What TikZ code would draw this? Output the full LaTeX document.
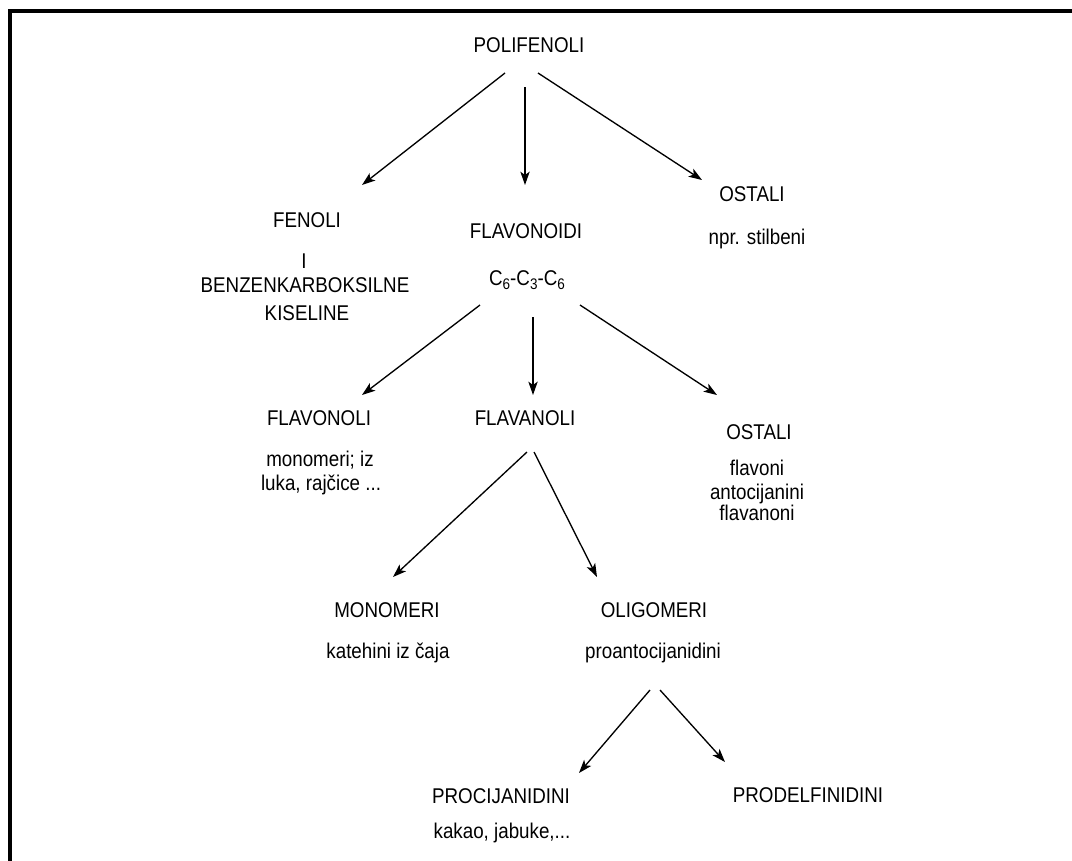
\documentclass[tikz,border=0pt]{standalone}
\usepackage{fontspec}
\setmainfont{Liberation Sans}[FakeStretch=0.88]
\usetikzlibrary{arrows.meta}
\newcommand{\lowsub}[1]{\raisebox{-3.6pt}{\fontsize{11.5pt}{12pt}\selectfont #1}}
\begin{document}
\begin{tikzpicture}[x=0.75pt,y=-0.75pt,
  lbl/.style={anchor=base,inner sep=0pt,font=\fontsize{16pt}{18pt}\selectfont},
  arr/.style={line width=1pt,-{Stealth[length=10pt,width=7pt,inset=2.5pt]}},
  frame/.style={line width=2.3pt,line cap=rect}]
\useasboundingbox (0,0) rectangle (1072,861);
\draw[frame] (10,861) -- (10,11) -- (1072,11);

\node[lbl] (poli) at (529,52) {POLIFENOLI};
\node[lbl] (fenoli) at (307,227) {FENOLI};
\node[lbl] (iconj) at (304,268) {I};
\node[lbl] (benz) at (305,292) {BENZENKARBOKSILNE};
\node[lbl] (kis) at (307,320) {KISELINE};
\node[lbl] (flavonoidi) at (526,238) {FLAVONOIDI};
\node[lbl] (c6) at (527,285) {C\lowsub{6}-C\lowsub{3}-C\lowsub{6}};
\node[lbl] (ostalia) at (752,201) {OSTALI};
\node[lbl] (npr) at (757,244) {npr. stilbeni};
\node[lbl] (flavonoli) at (319,425) {FLAVONOLI};
\node[lbl] (monoa) at (320,466) {monomeri; iz};
\node[lbl] (luka) at (321,490) {luka, rajčice ...};
\node[lbl] (flavanoli) at (525,425) {FLAVANOLI};
\node[lbl] (ostalib) at (759,439) {OSTALI};
\node[lbl] (flavoni) at (757,475) {flavoni};
\node[lbl] (antoc) at (757,499) {antocijanini};
\node[lbl] (flavanoni) at (757,520) {flavanoni};
\node[lbl] (monomeri) at (387,617) {MONOMERI};
\node[lbl] (katehini) at (388,658) {katehini iz čaja};
\node[lbl] (oligomeri) at (654,617) {OLIGOMERI};
\node[lbl] (proanto) at (653,658) {proantocijanidini};
\node[lbl] (procij) at (501,803) {PROCIJANIDINI};
\node[lbl] (kakao) at (502,838) {kakao, jabuke,...};
\node[lbl] (prodelf) at (808,802) {PRODELFINIDINI};

\draw[arr] ([shift={(-24,21)}]poli.base) -- ([shift={(55,-42)}]fenoli.base);
\draw[arr] ([shift={(-4,35)}]poli.base) -- ([shift={(-1,-53)}]flavonoidi.base);
\draw[arr] ([shift={(9,21)}]poli.base) -- ([shift={(-50,-21)}]ostalia.base);
\draw[arr] ([shift={(-47,20)}]c6.base) -- ([shift={(43,-30)}]flavonoli.base);
\draw[arr] ([shift={(6,32)}]c6.base) -- ([shift={(8,-30)}]flavanoli.base);
\draw[arr] ([shift={(53,20)}]c6.base) -- ([shift={(-42,-44)}]ostalib.base);
\draw[arr] ([shift={(2,27)}]flavanoli.base) -- ([shift={(6,-40)}]monomeri.base);
\draw[arr] ([shift={(9,27)}]flavanoli.base) -- ([shift={(-57,-40)}]oligomeri.base);
\draw[arr] ([shift={(-3,32)}]proanto.base) -- ([shift={(78,-30)}]procij.base);
\draw[arr] ([shift={(7,32)}]proanto.base) -- ([shift={(-83,-40)}]prodelf.base);
\end{tikzpicture}
\end{document}
